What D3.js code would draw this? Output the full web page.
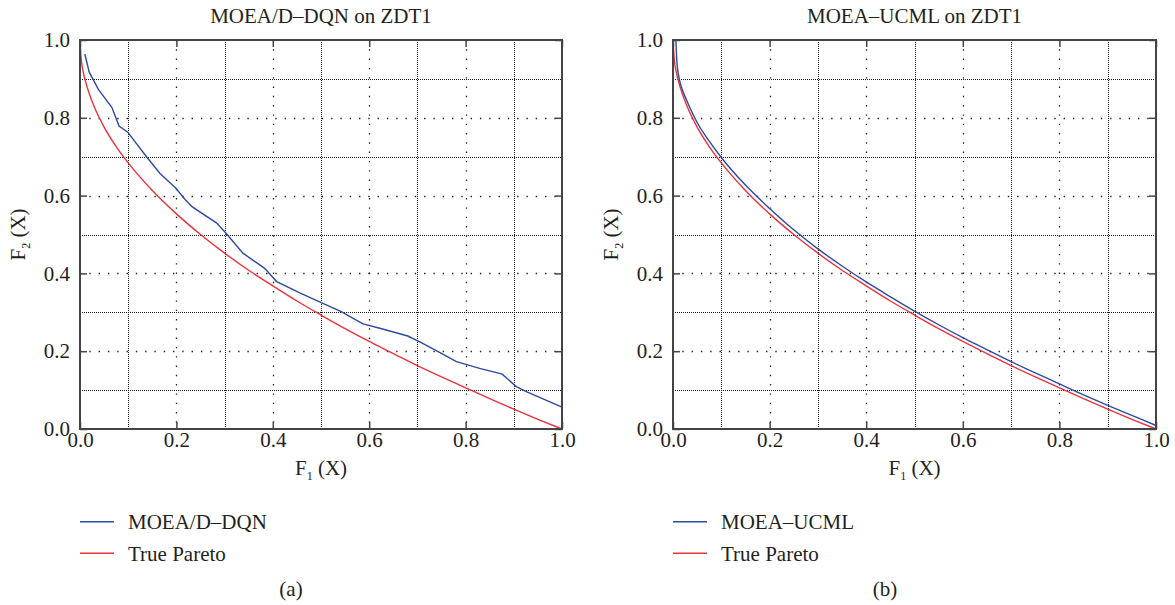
<!DOCTYPE html>
<html>
<head>
<meta charset="utf-8">
<script src="https://cdn.jsdelivr.net/npm/d3@7/dist/d3.min.js"></script>
<style>
  html, body { margin: 0; padding: 0; background: #fff; }
  svg { display: block; }
  text { font-family: "Liberation Serif", "DejaVu Serif", serif; fill: #231f20; }
</style>
</head>
<body>
<svg id="chart" width="1175" height="605"></svg>
<script>
// Tick values and their printed labels (shared by both axes)
const tickValues = [0, 0.2, 0.4, 0.6, 0.8, 1.0];
const tickLabels = ["0.0", "0.2", "0.4", "0.6", "0.8", "1.0"];
const gridOdd = [0.1, 0.3, 0.5, 0.7, 0.9];

// MOEA/D-DQN approximation front on ZDT1
const dqnF1 = [0.010, 0.019, 0.038, 0.066, 0.081, 0.099, 0.138, 0.166, 0.199, 0.218, 0.233, 0.283, 0.303, 0.338,
               0.383, 0.408, 0.456, 0.497, 0.542, 0.587, 0.622, 0.680, 0.705, 0.743, 0.781, 0.829, 0.876, 0.905, 0.926, 1.000];
const dqnF2 = [0.964, 0.918, 0.873, 0.827, 0.779, 0.763, 0.700, 0.657, 0.619, 0.590, 0.571, 0.530, 0.503, 0.452,
               0.413, 0.379, 0.350, 0.327, 0.302, 0.270, 0.259, 0.239, 0.224, 0.199, 0.173, 0.156, 0.141, 0.109, 0.096, 0.056];

// MOEA-UCML approximation front on ZDT1
const ucmlF1 = [0.006, 0.008, 0.013, 0.020, 0.030, 0.050, 0.075, 0.100, 0.150, 0.200, 0.250, 0.300, 0.350, 0.400,
                0.450, 0.500, 0.550, 0.600, 0.650, 0.700, 0.750, 0.800, 0.850, 0.900, 0.950, 1.000];
const ucmlF2 = [1.000, 0.945, 0.900, 0.870, 0.840, 0.788, 0.740, 0.698, 0.627, 0.567, 0.512, 0.463, 0.419, 0.378,
                0.340, 0.303, 0.268, 0.235, 0.204, 0.173, 0.144, 0.116, 0.088, 0.061, 0.035, 0.009];

// True Pareto front of ZDT1
const paretoF1 = [0.000, 0.003, 0.006, 0.010, 0.020, 0.030, 0.050, 0.075, 0.100, 0.150, 0.200, 0.250, 0.300, 0.350,
                  0.400, 0.450, 0.500, 0.550, 0.600, 0.650, 0.700, 0.750, 0.800, 0.850, 0.900, 0.950, 1.000];
const paretoF2 = [1.000, 0.945, 0.922, 0.900, 0.859, 0.827, 0.776, 0.726, 0.684, 0.613, 0.553, 0.500, 0.452, 0.408,
                  0.368, 0.329, 0.293, 0.258, 0.225, 0.194, 0.163, 0.134, 0.106, 0.078, 0.051, 0.025, 0.000];

const seriesNames = ["MOEA/D\u2013DQN", "MOEA\u2013UCML"];
const titles = ["MOEA/D\u2013DQN on ZDT1", "MOEA\u2013UCML on ZDT1"];
const panelTags = ["(a)", "(b)"];

const BLUE = "#2d4aa3";
const RED = "#e9333b";
const FS = 21;

const panels = [
  { left: 80, right: 562, tagX: 291, smooth: false, algo: { x: dqnF1, y: dqnF2 }, name: seriesNames[0], title: titles[0], tag: panelTags[0] },
  { left: 673, right: 1156, tagX: 885, smooth: true, algo: { x: ucmlF1, y: ucmlF2 }, name: seriesNames[1], title: titles[1], tag: panelTags[1] }
];
const plotTop = 40, plotBottom = 429;

const svg = d3.select("#chart");

function zip(xs, ys) { return xs.map((v, i) => [v, ys[i]]); }
const crisp = v => Math.round(v) + 0.5;

// Label with a subscripted index, e.g. F₁ (X)
function subLabel(sel, idx) {
  sel.append("tspan").text("F");
  sel.append("tspan").attr("font-size", 12).attr("dy", 5).text(idx);
  sel.append("tspan").attr("dy", -5).text(" (X)");
}

panels.forEach(p => {
  const x = d3.scaleLinear().domain([0, 1]).range([p.left, p.right]);
  const y = d3.scaleLinear().domain([0, 1]).range([plotBottom, plotTop]);
  const g = svg.append("g");

  // Dense dotted grid at odd tenths
  g.append("g").selectAll("line").data(gridOdd).join("line")
    .attr("x1", d => crisp(x(d))).attr("x2", d => crisp(x(d))).attr("y1", plotTop).attr("y2", plotBottom)
    .attr("stroke", "#1a1a1a").attr("stroke-width", 1).attr("stroke-dasharray", "1,1");
  g.append("g").selectAll("line").data(gridOdd).join("line")
    .attr("y1", d => crisp(y(d))).attr("y2", d => crisp(y(d))).attr("x1", p.left).attr("x2", p.right)
    .attr("stroke", "#1a1a1a").attr("stroke-width", 1).attr("stroke-dasharray", "1,1");

  // Sparse dotted grid at the labelled ticks
  const inner = tickValues.slice(1, -1);
  g.append("g").selectAll("line").data(inner).join("line")
    .attr("x1", d => crisp(x(d))).attr("x2", d => crisp(x(d))).attr("y1", plotTop).attr("y2", plotBottom)
    .attr("stroke", "#222").attr("stroke-width", 1.3).attr("stroke-dasharray", "1.4,7.9");
  g.append("g").selectAll("line").data(inner).join("line")
    .attr("y1", d => crisp(y(d))).attr("y2", d => crisp(y(d))).attr("x1", p.left).attr("x2", p.right)
    .attr("stroke", "#222").attr("stroke-width", 1.3).attr("stroke-dasharray", "1.4,7.9");

  // Curves
  const smoothLine = d3.line().x(d => x(d[0])).y(d => y(d[1])).curve(d3.curveMonotoneX);
  const polyLine = d3.line().x(d => x(d[0])).y(d => y(d[1]));
  g.append("path").datum(zip(paretoF1, paretoF2))
    .attr("d", smoothLine).attr("fill", "none").attr("stroke", RED).attr("stroke-width", 1.4);
  g.append("path").datum(zip(p.algo.x, p.algo.y))
    .attr("d", p.smooth ? smoothLine : polyLine)
    .attr("fill", "none").attr("stroke", BLUE).attr("stroke-width", 1.4);

  // Axes with inward ticks on all four sides
  const fmt = (d) => tickLabels[tickValues.indexOf(d)];
  const axisStyle = a => {
    a.select(".domain").remove();
    a.selectAll(".tick line").attr("stroke", "#444").attr("stroke-width", 1.5);
    a.selectAll("text").attr("font-size", FS).attr("fill", "#231f20")
      .attr("font-family", "'Liberation Serif', serif");
  };
  g.append("g").attr("transform", `translate(0,${plotBottom})`)
    .call(d3.axisBottom(x).tickValues(tickValues).tickFormat(fmt).tickSizeInner(-7))
    .call(axisStyle)
    .call(a => a.selectAll("text").attr("dy", null).attr("y", 18));
  g.append("g").attr("transform", `translate(${p.left},0)`)
    .call(d3.axisLeft(y).tickValues(tickValues).tickFormat(fmt).tickSizeInner(-7).tickPadding(10))
    .call(axisStyle);
  g.append("g").attr("transform", `translate(0,${plotTop})`)
    .call(d3.axisTop(x).tickValues(tickValues).tickFormat("").tickSizeInner(-7)).call(axisStyle);
  g.append("g").attr("transform", `translate(${p.right},0)`)
    .call(d3.axisRight(y).tickValues(tickValues).tickFormat("").tickSizeInner(-7)).call(axisStyle);

  // Frame
  g.append("rect").attr("x", p.left).attr("y", plotTop).attr("width", p.right - p.left).attr("height", plotBottom - plotTop)
    .attr("fill", "none").attr("stroke", "#444").attr("stroke-width", 2);

  // Title
  g.append("text").attr("x", (p.left + p.right) / 2).attr("y", 23).attr("text-anchor", "middle")
    .attr("font-size", FS).text(p.title);

  // Axis labels
  g.append("text").attr("x", (p.left + p.right) / 2).attr("y", 475).attr("text-anchor", "middle")
    .attr("font-size", FS).call(s => subLabel(s, "1"));
  g.append("text").attr("transform", `translate(${p.left - 55},${(plotTop + plotBottom) / 2}) rotate(-90)`)
    .attr("text-anchor", "middle").attr("font-size", FS).call(s => subLabel(s, "2"));

  // Legend
  const legend = [{ name: p.name, color: BLUE }, { name: "True Pareto", color: RED }];
  const lg = g.append("g").selectAll("g").data(legend).join("g")
    .attr("transform", (d, i) => `translate(${p.left},${521.7 + i * 31.6})`);
  lg.append("line").attr("x1", 0).attr("x2", 34).attr("stroke", d => d.color).attr("stroke-width", 1.4);
  lg.append("text").attr("x", 48).attr("dy", "0.35em").attr("font-size", FS).text(d => d.name);

  // Panel tag
  g.append("text").attr("x", p.tagX).attr("y", 596).attr("text-anchor", "middle")
    .attr("font-size", FS).text(p.tag);
});
</script>
</body>
</html>
